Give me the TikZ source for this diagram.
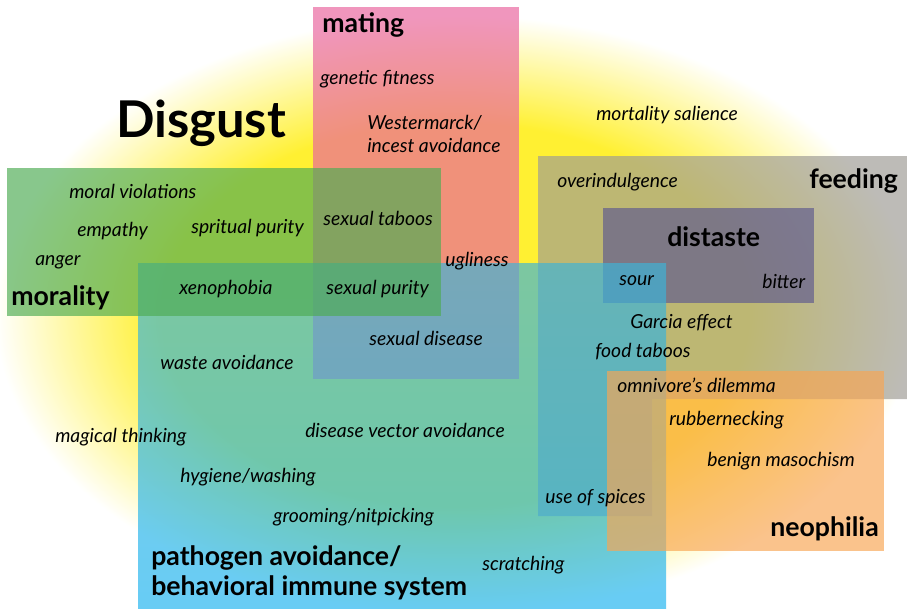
\documentclass[tikz,border=0pt]{standalone}
\usepackage{fontspec}
\setmainfont{Lato}

\definecolor{glowyellow}{RGB}{255,240,50}
\definecolor{matingc}{RGB}{233,99,158}
\definecolor{feedingc}{RGB}{158,155,148}
\definecolor{distastec}{RGB}{94,90,142}
\definecolor{pathtop}{RGB}{61,180,216}
\definecolor{pathbot}{RGB}{30,180,240}
\definecolor{moralityc}{RGB}{78,172,84}
\definecolor{neophiliac}{RGB}{248,166,84}

\pgfdeclareradialshading{glow}{\pgfpoint{0bp}{0bp}}{color(0bp)=(glowyellow); color(16bp)=(glowyellow); color(25bp)=(white); color(50bp)=(white)}

\begin{document}
\begin{tikzpicture}[x=0.75pt, y=-0.75pt,
    term/.style={anchor=west, inner sep=0pt, font=\itshape\fontsize{14.5}{17}\selectfont},
    field/.style={anchor=west, inner sep=0pt, font=\bfseries\fontsize{20}{22.5}\selectfont},
    region/.style={fill opacity=0.67}]

    \useasboundingbox (0,0) rectangle (907,610);
    \clip (0,0) rectangle (907,610);
    \fill[white] (0,0) rectangle (907,610);

    % yellow glow behind everything
    \shade[shading=glow] (455,315) ellipse [x radius=460, y radius=300];

    % regions
    \fill[region, matingc] (313,7) rectangle (519,379);
    \fill[region, feedingc] (538,156) -- (907,156) -- (907,399) -- (652,399)
        -- (652,516) -- (538,516) -- cycle;
    \fill[region, distastec] (603,208) rectangle (814,303);
    \shade[region, top color=pathtop, bottom color=pathbot] (138,263) rectangle (666,608);
    \fill[region, moralityc] (7,168) rectangle (441,316);
    \fill[region, neophiliac] (607,371) rectangle (884,551);

    % titles
    \node[field, font=\bfseries\fontsize{38}{42}\selectfont] (disgust) at (116,123) {Disgust};
    \node[field] (mating) at (322,25) {mating};
    \node[field] (feeding) at (809,181) {feeding};
    \node[field] (distaste) at (667,237) {distaste};
    \node[field] (morality) at (11,298) {morality};
    \node[field] (neophilia) at (770,529) {neophilia};
    \node[field, align=left] (pathogen) at (151,573) {pathogen avoidance/\\behavioral immune system};

    % terms
    \node[term] (fitness) at (320,79) {genetic fitness};
    \node[term, align=left] (incest) at (367,134) {Westermarck/\\incest avoidance};
    \node[term] (salience) at (596,115) {mortality salience};
    \node[term] (overindulge) at (557,182) {overindulgence};
    \node[term] (violations) at (69,191) {moral violations};
    \node[term] (empathy) at (77,231) {empathy};
    \node[term] (spiritual) at (191,228) {spritual purity};
    \node[term] (taboos) at (323,218) {sexual taboos};
    \node[term] (anger) at (35,262) {anger};
    \node[term] (ugliness) at (445,261) {ugliness};
    \node[term] (xenophobia) at (179,289) {xenophobia};
    \node[term] (purity) at (326,289) {sexual purity};
    \node[term] (sour) at (619,281) {sour};
    \node[term] (bitter) at (762,281) {bitter};
    \node[term] (garcia) at (630,323) {Garcia effect};
    \node[term] (disease) at (369,338) {sexual disease};
    \node[term] (foodtaboos) at (595,352) {food taboos};
    \node[term] (waste) at (160,362) {waste avoidance};
    \node[term] (omnivore) at (617,385) {omnivore’s dilemma};
    \node[term] (rubber) at (669,420) {rubbernecking};
    \node[term] (magical) at (55,437) {magical thinking};
    \node[term] (vector) at (305,430) {disease vector avoidance};
    \node[term] (masochism) at (707,461) {benign masochism};
    \node[term] (hygiene) at (180,477) {hygiene/washing};
    \node[term] (spices) at (545,498) {use of spices};
    \node[term] (grooming) at (273,517) {grooming/nitpicking};
    \node[term] (scratching) at (482,565) {scratching};

\end{tikzpicture}
\end{document}
